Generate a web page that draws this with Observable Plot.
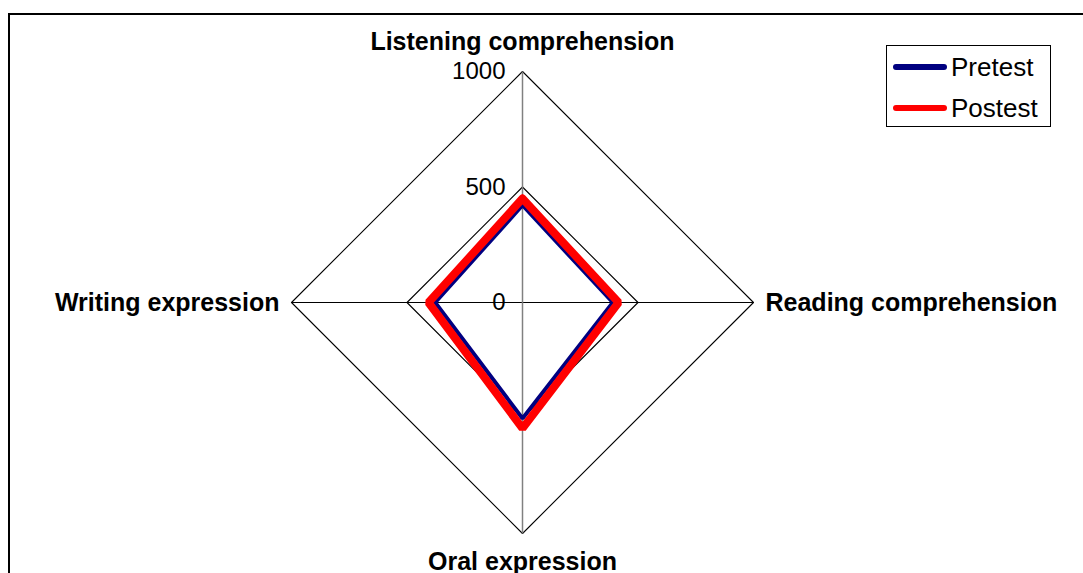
<!DOCTYPE html>
<html>
<head>
<meta charset="utf-8">
<script src="https://cdn.jsdelivr.net/npm/d3@7"></script>
<script src="https://cdn.jsdelivr.net/npm/@observablehq/plot@0.6"></script>
<style>
  html, body { margin: 0; padding: 0; background: #fff; }
  body { width: 1083px; height: 573px; position: relative; overflow: hidden; font-family: "Liberation Sans", Arial, sans-serif; }
  #frame { position: absolute; left: 8px; top: 13px; width: 1100px; height: 600px; border-left: 2px solid #000; border-top: 2px solid #000; }
  #chart { position: absolute; left: 0; top: 0; }
  #legend { position: absolute; left: 886px; top: 45px; width: 163px; height: 80px; border: 1px solid #000; background: #fff; }
  .row { position: absolute; left: 6px; height: 30px; display: flex; align-items: center; }
  .sw { width: 54px; height: 6px; border-radius: 3px; margin-right: 4px; }
  .lab { font-size: 26px; color: #000; line-height: 30px; }
</style>
</head>
<body>
<div id="frame"></div>
<div id="chart"></div>
<div id="legend"></div>
<script>
// ---- data ----
const axes = ["Listening comprehension", "Reading comprehension", "Oral expression", "Writing expression"];
const pretest = [421, 391, 502, 378];
const postest = [450, 416, 545, 407];
const ringTicks = [0, 500, 1000];
const seriesNames = ["Pretest", "Postest"];
const seriesColors = ["#000080", "#ff0000"];

// ---- geometry helpers (polar -> cartesian in data units) ----
const W = 1083, H = 573, cx = 522, cy = 302, k = 0.231; // px per unit
const ang = i => (i * Math.PI) / 2; // clockwise from top
const px = (i, v) => v * Math.sin(ang(i));
const py = (i, v) => v * Math.cos(ang(i));

const ringPts = [];
for (const r of ringTicks.filter(t => t > 0)) {
  for (let i = 0; i <= axes.length; i++) {
    const j = i % axes.length;
    ringPts.push({ring: r, x: px(j, r), y: py(j, r)});
  }
}
const seriesPts = [];
[pretest, postest].forEach((vals, s) => {
  for (let i = 0; i <= axes.length; i++) {
    const j = i % axes.length;
    seriesPts.push({series: seriesNames[s], x: px(j, vals[j]), y: py(j, vals[j])});
  }
});
const maxR = d3.max(ringTicks);
const spokes = axes.map((a, i) => ({axis: a, x1: 0, y1: 0, x2: px(i, maxR), y2: py(i, maxR), vertical: i % 2 === 0}));
const labels = axes.map((a, i) => ({axis: a, i, x: px(i, maxR), y: py(i, maxR)}));
const tickLabels = ringTicks.map(t => ({t, x: 0, y: t}));

const font = "Liberation Sans, Arial, sans-serif";

const chart = Plot.plot({
  width: W, height: H,
  margin: 0,
  x: {domain: [-cx / k, (W - cx) / k], axis: null},
  y: {domain: [-(H - cy) / k, cy / k], axis: null},
  marks: [
    Plot.line(ringPts, {x: "x", y: "y", z: "ring", stroke: "#000", strokeWidth: 1.1}),
    Plot.link(spokes.filter(d => !d.vertical), {x1: "x1", y1: "y1", x2: "x2", y2: "y2", stroke: "#000", strokeWidth: 1}),
    Plot.link(spokes.filter(d => d.vertical), {x1: "x1", y1: "y1", x2: "x2", y2: "y2", stroke: "#808080", strokeWidth: 1.5}),
    Plot.line(seriesPts.filter(d => d.series === "Pretest"), {x: "x", y: "y", stroke: seriesColors[0], strokeWidth: 4, strokeLinejoin: "miter", curve: "linear"}),
    Plot.line(seriesPts.filter(d => d.series === "Postest"), {x: "x", y: "y", stroke: seriesColors[1], strokeWidth: 8, strokeLinejoin: "miter", curve: "linear"}),
    Plot.text(tickLabels, {x: "x", y: "y", text: d => String(d.t), textAnchor: "end", dx: -17, fontSize: 24, fontFamily: font, fill: "#000"}),
    Plot.text(labels.filter(d => d.i === 0), {x: "x", y: "y", text: "axis", dy: -30, fontSize: 25, fontWeight: "bold", fontFamily: font, fill: "#000"}),
    Plot.text(labels.filter(d => d.i === 2), {x: "x", y: "y", text: "axis", dy: 28, fontSize: 25, fontWeight: "bold", fontFamily: font, fill: "#000"}),
    Plot.text(labels.filter(d => d.i === 1), {x: "x", y: "y", text: "axis", textAnchor: "start", dx: 12, fontSize: 25, fontWeight: "bold", fontFamily: font, fill: "#000"}),
    Plot.text(labels.filter(d => d.i === 3), {x: "x", y: "y", text: "axis", textAnchor: "end", dx: -12, fontSize: 25, fontWeight: "bold", fontFamily: font, fill: "#000"})
  ]
});
chart.style.background = "transparent";
document.getElementById("chart").appendChild(chart);

// legend
const leg = document.getElementById("legend");
seriesNames.forEach((n, i) => {
  const row = document.createElement("div");
  row.className = "row";
  row.style.top = (6 + i * 41) + "px";
  const sw = document.createElement("div");
  sw.className = "sw";
  sw.style.background = seriesColors[i];
  const lab = document.createElement("span");
  lab.className = "lab";
  lab.textContent = n;
  row.appendChild(sw); row.appendChild(lab);
  leg.appendChild(row);
});
</script>
</body>
</html>
